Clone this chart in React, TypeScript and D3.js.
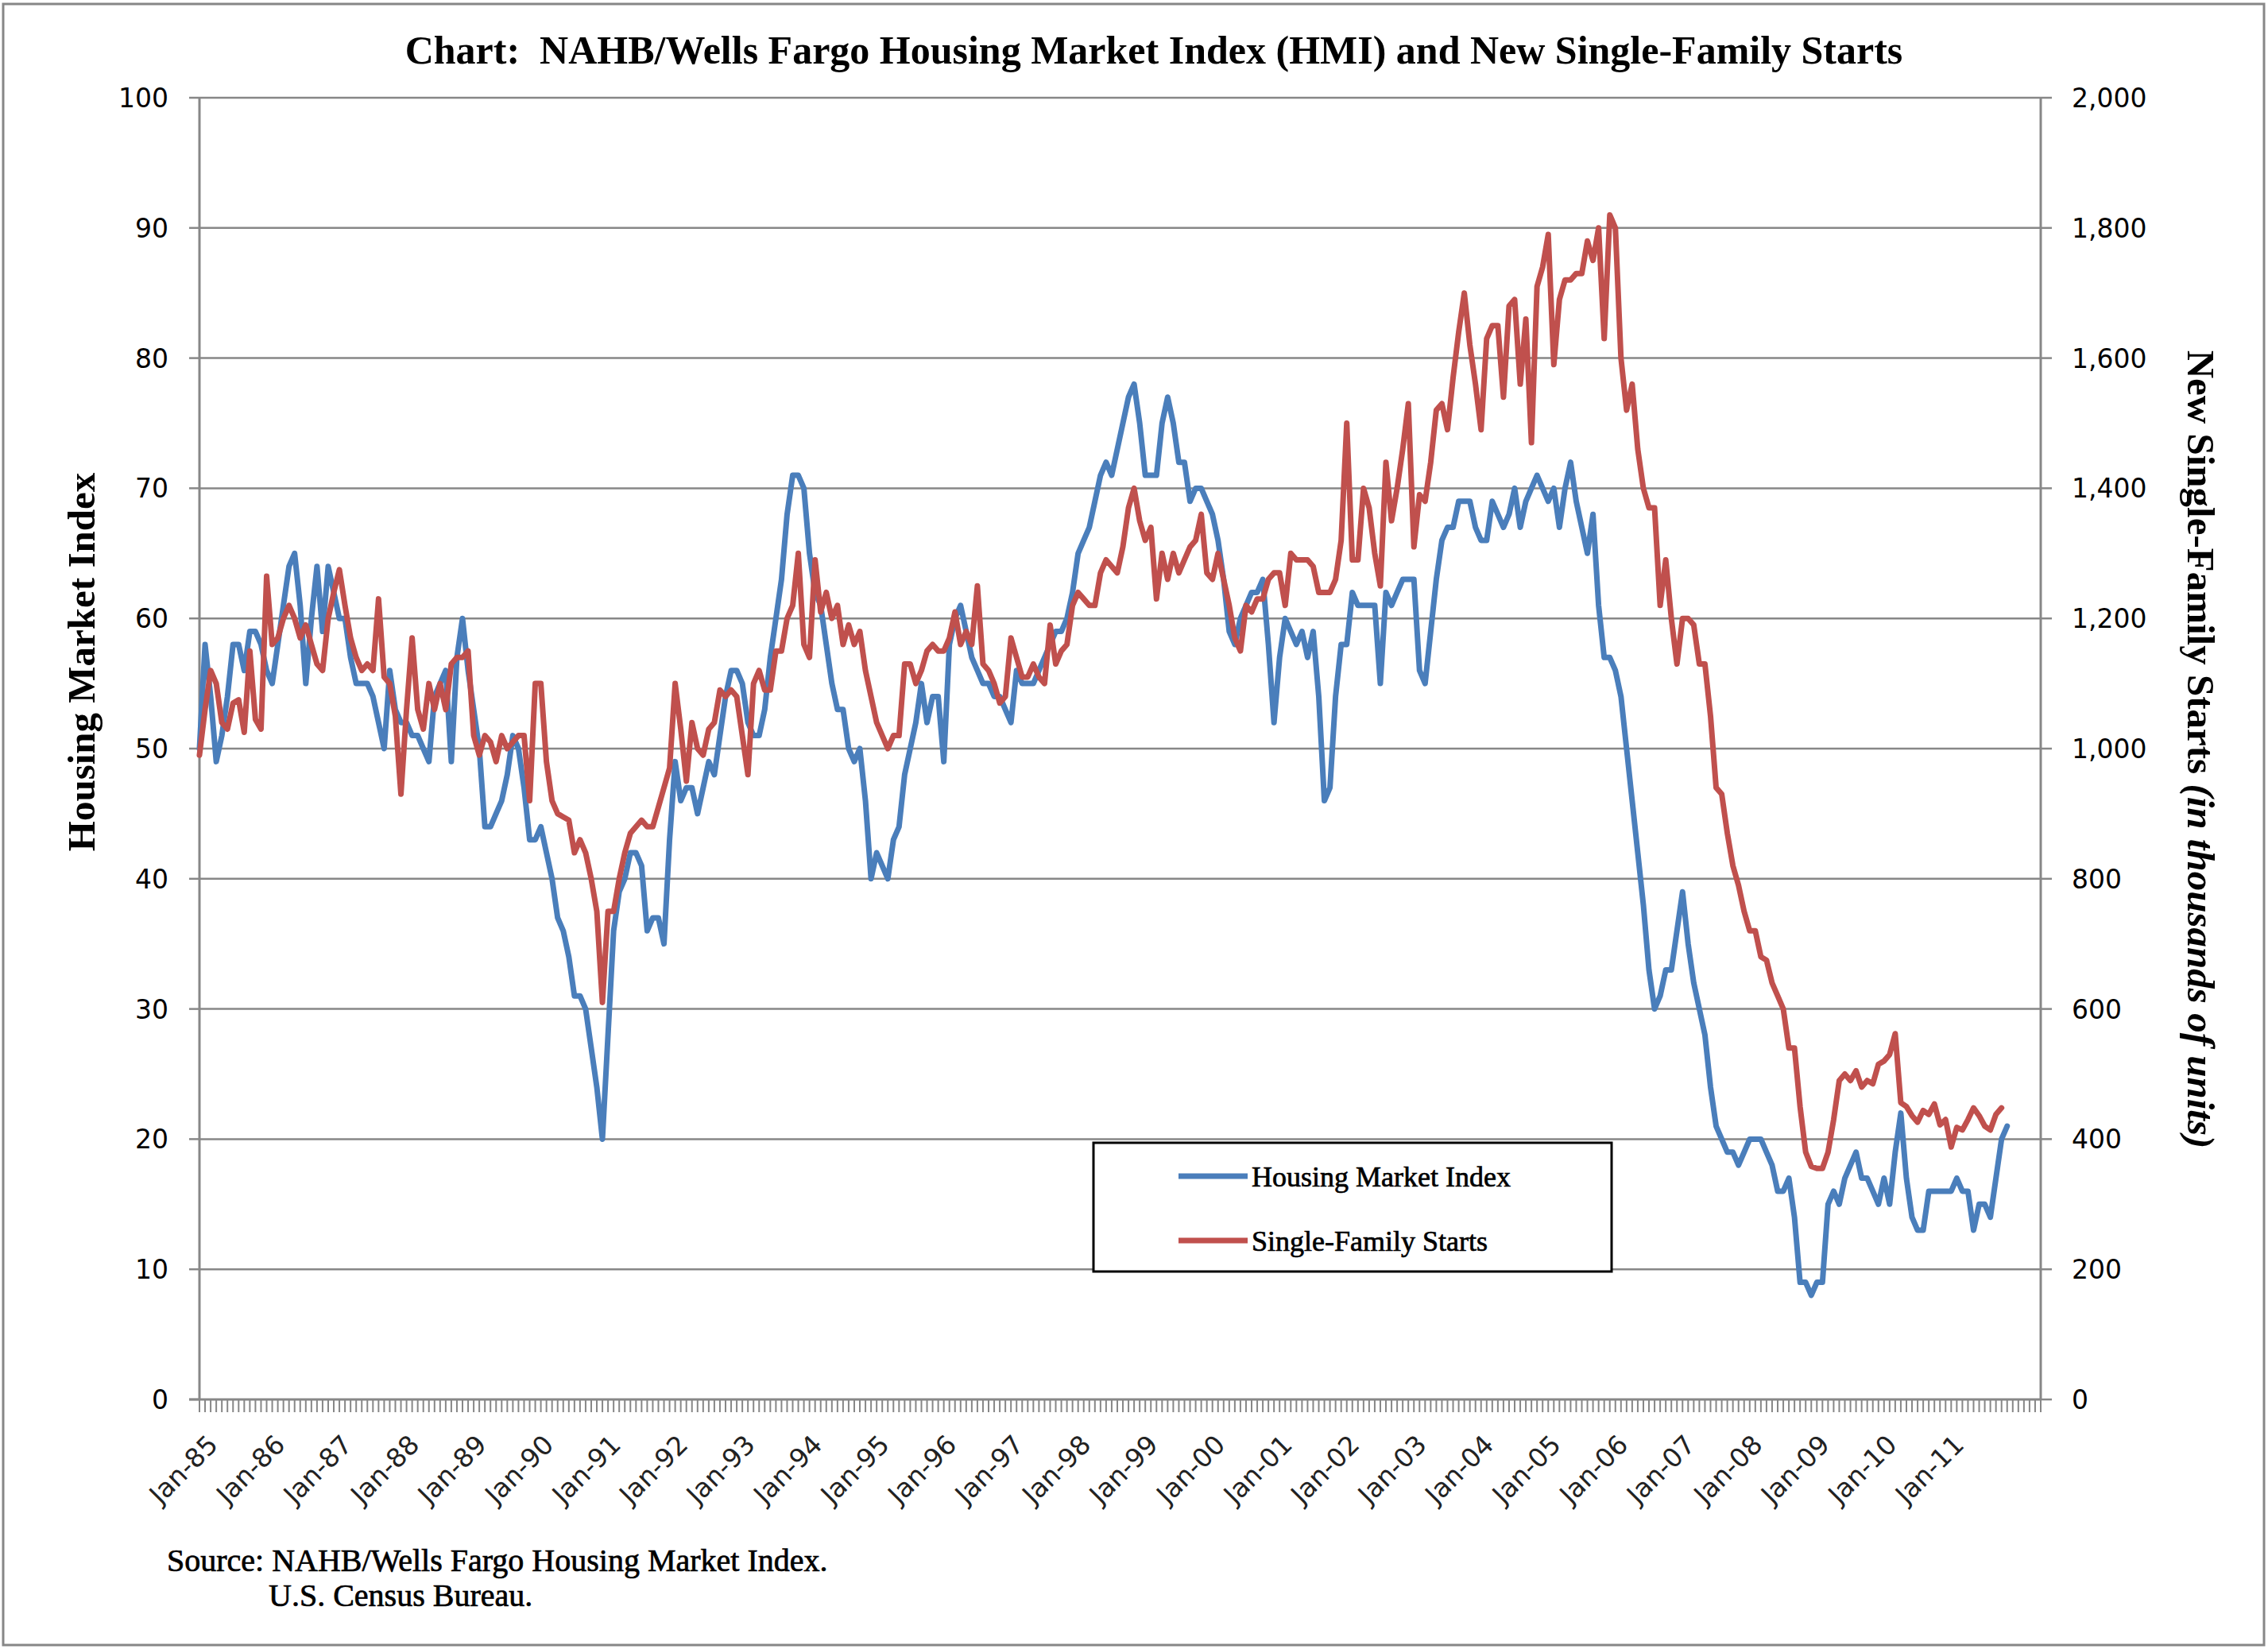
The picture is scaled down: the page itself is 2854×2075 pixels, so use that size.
import * as d3 from "d3";

// category axis: one slot per month, Jan-85 through Jun-12 (data stops at Dec-11)
const monthCount = 330;

const yearLabels = [
  "Jan-85", "Jan-86", "Jan-87", "Jan-88", "Jan-89", "Jan-90", "Jan-91",
  "Jan-92", "Jan-93", "Jan-94", "Jan-95", "Jan-96", "Jan-97", "Jan-98",
  "Jan-99", "Jan-00", "Jan-01", "Jan-02", "Jan-03", "Jan-04", "Jan-05",
  "Jan-06", "Jan-07", "Jan-08", "Jan-09", "Jan-10", "Jan-11",
];

const hmiTicks = [0, 10, 20, 30, 40, 50, 60, 70, 80, 90, 100];
const startsTicks = [0, 200, 400, 600, 800, 1000, 1200, 1400, 1600, 1800, 2000];

// NAHB/Wells Fargo HMI, monthly from Jan-85 (one row per year)
const housingMarketIndex = [
  50, 58, 54, 49, 51, 54, 58, 58, 56, 59, 59, 58,
  56, 55, 58, 61, 64, 65, 61, 55, 60, 64, 59, 64,
  62, 60, 60, 57, 55, 55, 55, 54, 52, 50, 56, 53,
  52, 52, 51, 51, 50, 49, 54, 55, 56, 49, 57, 60,
  56, 53, 50, 44, 44, 45, 46, 48, 51, 50, 47, 43,
  43, 44, 42, 40, 37, 36, 34, 31, 31, 30, 27, 24,
  20, 28, 36, 39, 40, 42, 42, 41, 36, 37, 37, 35,
  43, 49, 46, 47, 47, 45, 47, 49, 48, 51, 54, 56,
  56, 55, 52, 51, 51, 53, 57, 60, 63, 68, 71, 71,
  70, 65, 62, 61, 58, 55, 53, 53, 50, 49, 50, 46,
  40, 42, 41, 40, 43, 44, 48, 50, 52, 55, 52, 54,
  54, 49, 58, 60, 61, 59, 57, 56, 55, 55, 54, 54,
  53, 52, 56, 55, 55, 55, 56, 57, 58, 59, 59, 60,
  62, 65, 66, 67, 69, 71, 72, 71, 73, 75, 77, 78,
  75, 71, 71, 71, 75, 77, 75, 72, 72, 69, 70, 70,
  69, 68, 66, 63, 59, 58, 60, 61, 62, 62, 63, 58,
  52, 57, 60, 59, 58, 59, 57, 59, 54, 46, 47, 54,
  58, 58, 62, 61, 61, 61, 61, 55, 62, 61, 62, 63,
  63, 63, 56, 55, 59, 63, 66, 67, 67, 69, 69, 69,
  67, 66, 66, 69, 68, 67, 68, 70, 67, 69, 70, 71,
  70, 69, 70, 67, 70, 72, 69, 67, 65, 68, 61, 57,
  57, 56, 54, 50, 46, 42, 38, 33, 30, 31, 33, 33,
  36, 39, 35, 32, 30, 28, 24, 21, 20, 19, 19, 18,
  19, 20, 20, 20, 19, 18, 16, 16, 17, 14, 9, 9,
  8, 9, 9, 15, 16, 15, 17, 18, 19, 17, 17, 16,
  15, 17, 15, 19, 22, 17, 14, 13, 13, 16, 16, 16,
  16, 16, 17, 16, 16, 13, 15, 15, 14, 17, 20, 21,
];

// new single-family starts, thousands of units, monthly from Jan-85 (through Nov-11)
const singleFamilyStarts = [
  990, 1060, 1120, 1100, 1040, 1030, 1070, 1075, 1025, 1150, 1045, 1030,
  1265, 1160, 1170, 1200, 1220, 1200, 1170, 1190, 1160, 1130, 1120, 1200,
  1240, 1275, 1220, 1170, 1140, 1120, 1130, 1120, 1230, 1110, 1100, 1050,
  930, 1060, 1170, 1060, 1030, 1100, 1060, 1100, 1060, 1130, 1140, 1140,
  1150, 1020, 990, 1020, 1010, 980, 1020, 1000, 1010, 1020, 1020, 920,
  1100, 1100, 980, 920, 900, 895, 890, 840, 860, 840, 800, 750,
  610, 750, 750, 800, 840, 870, 880, 890, 880, 880, 910, 940,
  970, 1100, 1030, 950, 1040, 1000, 990, 1030, 1040, 1090, 1080, 1090,
  1080, 1020, 960, 1100, 1120, 1090, 1090, 1150, 1150, 1200, 1220, 1300,
  1160, 1140, 1290, 1210, 1240, 1200, 1220, 1160, 1190, 1160, 1180, 1120,
  1080, 1040, 1020, 1000, 1020, 1020, 1130, 1130, 1100, 1120, 1150, 1160,
  1150, 1150, 1170, 1210, 1160, 1180, 1160, 1250, 1130, 1120, 1100, 1070,
  1080, 1170, 1140, 1110, 1110, 1130, 1110, 1100, 1190, 1130, 1150, 1160,
  1220, 1240, 1230, 1220, 1220, 1270, 1290, 1280, 1270, 1310, 1370, 1400,
  1350, 1320, 1340, 1230, 1300, 1260, 1300, 1270, 1290, 1310, 1320, 1360,
  1270, 1260, 1300, 1260, 1220, 1170, 1150, 1220, 1210, 1230, 1230, 1260,
  1270, 1270, 1220, 1300, 1290, 1290, 1290, 1280, 1240, 1240, 1240, 1260,
  1320, 1500, 1290, 1290, 1400, 1370, 1300, 1250, 1440, 1350, 1400, 1460,
  1530, 1310, 1390, 1380, 1440, 1520, 1530, 1490, 1570, 1640, 1700, 1620,
  1560, 1490, 1630, 1650, 1650, 1540, 1680, 1690, 1560, 1660, 1470, 1710,
  1740, 1790, 1590, 1690, 1720, 1720, 1730, 1730, 1780, 1750, 1800, 1630,
  1820, 1800, 1600, 1520, 1560, 1460, 1400, 1370, 1370, 1220, 1290, 1200,
  1130, 1200, 1200, 1190, 1130, 1130, 1050, 940, 930, 870, 820, 790,
  750, 720, 720, 680, 675, 640, 620, 600, 540, 540, 450, 380,
  358, 355, 355, 380, 430, 490, 500, 490, 505, 480, 490, 485,
  515, 520, 530, 562, 456, 450, 436, 426, 444, 438, 454, 422,
  430, 388, 418, 414, 430, 448, 436, 420, 414, 438, 448,
];

const serif = "'Liberation Serif', 'Times New Roman', serif";
const sans = "'DejaVu Sans', sans-serif";
const gridColor = "#878787";
const hmiColor = "#4a7ebb";
const startsColor = "#c0504d";

export default function App() {
  const width = 2854;
  const height = 2075;
  const plot = { left: 251, right: 2568, top: 123, bottom: 1761 };

  const x = d3
    .scaleLinear()
    .domain([0, monthCount - 1])
    .range([plot.left, plot.right]);
  const yLeft = d3.scaleLinear().domain([0, 100]).range([plot.bottom, plot.top]);
  const yRight = d3.scaleLinear().domain([0, 2000]).range([plot.bottom, plot.top]);

  const hmiPath =
    d3
      .line<number>()
      .x((_, i) => x(i))
      .y((d) => yLeft(d))(housingMarketIndex) ?? "";
  const startsPath =
    d3
      .line<number>()
      .x((_, i) => x(i))
      .y((d) => yRight(d))(singleFamilyStarts) ?? "";

  const fmt = d3.format(",");
  const legend = { x: 1376, y: 1438, w: 652, h: 162 };
  const lineWidth = 7;

  return (
    <svg
      width={width}
      height={height}
      style={{ position: "absolute", left: 0, top: 0, background: "#fff" }}
    >
      <rect x={0} y={0} width={width} height={height} fill="#fff" />
      <rect
        x={4}
        y={5}
        width={width - 9}
        height={height - 10}
        fill="none"
        stroke={gridColor}
        strokeWidth={3}
      />

      <text
        x={1452}
        y={80}
        textAnchor="middle"
        fontFamily={serif}
        fontWeight="bold"
        fontSize={50}
        style={{ whiteSpace: "pre" }}
      >
        {"Chart:  NAHB/Wells Fargo Housing Market Index (HMI) and New Single-Family Starts"}
      </text>

      {/* horizontal gridlines + left / right tick labels */}
      {hmiTicks.map((t, i) => {
        const y = yLeft(t);
        return (
          <g key={`grid-${t}`}>
            {t > 0 && (
              <line x1={plot.left} x2={plot.right} y1={y} y2={y} stroke={gridColor} strokeWidth={2.5} />
            )}
            <line x1={plot.left - 13} x2={plot.left} y1={y} y2={y} stroke={gridColor} strokeWidth={2.5} />
            <line x1={plot.right} x2={plot.right + 14} y1={y} y2={y} stroke={gridColor} strokeWidth={2.5} />
            <text x={212} y={y + 12} textAnchor="end" fontFamily={sans} fontSize={33}>
              {t}
            </text>
            <text x={2607} y={yRight(startsTicks[i]) + 12} fontFamily={sans} fontSize={33}>
              {fmt(startsTicks[i])}
            </text>
          </g>
        );
      })}

      {/* axes */}
      <line x1={plot.left} x2={plot.left} y1={plot.top} y2={plot.bottom} stroke={gridColor} strokeWidth={3} />
      <line x1={plot.right} x2={plot.right} y1={plot.top} y2={plot.bottom} stroke={gridColor} strokeWidth={3} />
      <line x1={plot.left - 13} x2={plot.right} y1={plot.bottom} y2={plot.bottom} stroke={gridColor} strokeWidth={3} />
      {d3.range(monthCount).map((i) => (
        <line
          key={`tick-${i}`}
          x1={x(i)}
          x2={x(i)}
          y1={plot.bottom}
          y2={plot.bottom + 16}
          stroke={gridColor}
          strokeWidth={2}
        />
      ))}
      {yearLabels.map((label, i) => {
        const tx = x(i * 12) + 25;
        const ty = plot.bottom + 59;
        return (
          <text
            key={label}
            x={tx}
            y={ty}
            textAnchor="end"
            fontFamily={sans}
            fontSize={33}
            fill="#222"
            transform={`rotate(-45 ${tx} ${ty})`}
          >
            {label}
          </text>
        );
      })}

      {/* series */}
      <path
        d={hmiPath}
        fill="none"
        stroke={hmiColor}
        strokeWidth={lineWidth}
        strokeLinejoin="round"
        strokeLinecap="round"
      />
      <path
        d={startsPath}
        fill="none"
        stroke={startsColor}
        strokeWidth={lineWidth}
        strokeLinejoin="round"
        strokeLinecap="round"
      />

      {/* axis titles */}
      <text
        transform="translate(119 833) rotate(-90)"
        textAnchor="middle"
        fontFamily={serif}
        fontWeight="bold"
        fontSize={49}
      >
        Housing Market Index
      </text>
      <text
        transform="translate(2753 943) rotate(90)"
        textAnchor="middle"
        fontFamily={serif}
        fontWeight="bold"
        fontSize={49}
      >
        New Single-Family Starts <tspan fontStyle="italic">(in thousands of units)</tspan>
      </text>

      {/* legend */}
      <rect
        x={legend.x}
        y={legend.y}
        width={legend.w}
        height={legend.h}
        fill="#fff"
        stroke="#000"
        strokeWidth={3}
      />
      <line x1={1483} x2={1570} y1={1480} y2={1480} stroke={hmiColor} strokeWidth={lineWidth} />
      <text x={1575} y={1493} fontFamily={serif} fontSize={36} stroke="#000" strokeWidth={0.7}>
        Housing Market Index
      </text>
      <line x1={1483} x2={1570} y1={1561} y2={1561} stroke={startsColor} strokeWidth={lineWidth} />
      <text x={1575} y={1574} fontFamily={serif} fontSize={36} stroke="#000" strokeWidth={0.7}>
        Single-Family Starts
      </text>

      {/* source note */}
      <text x={210} y={1977} fontFamily={serif} fontSize={40} stroke="#000" strokeWidth={0.7}>
        Source: NAHB/Wells Fargo Housing Market Index.
      </text>
      <text x={338} y={2021} fontFamily={serif} fontSize={40} stroke="#000" strokeWidth={0.7}>
        U.S. Census Bureau.
      </text>
    </svg>
  );
}
